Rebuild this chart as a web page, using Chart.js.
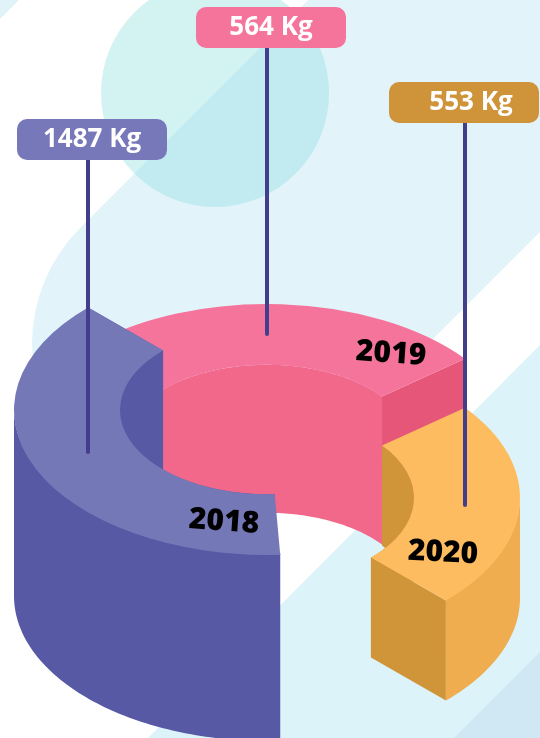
<!DOCTYPE html>
<html>
<head>
<meta charset="utf-8">
<title>Kg per year</title>
<script src="https://cdn.jsdelivr.net/npm/chart.js@4"></script>
<style>
  html, body { margin: 0; padding: 0; background: #fff; }
  canvas { display: block; }
</style>
</head>
<body>
<canvas id="ring" width="540" height="738"></canvas>
<script>
var years = ['2018', '2019', '2020'];
var kgValues = [1487, 564, 553];
// degrees each slice covers in the picture (not proportional to the kg values)
var sliceSweep = [138, 96.5, 83.5];

var topColors = ['#7578b7', '#f5749b', '#febc60'];
var outerWallColors = ['#5759a5', '#f1688a', '#efad4f'];
var innerWallColors = ['#5759a5', '#f1688a', '#d09539'];
var endFaceColors = ['#5759a5', '#e55678', '#d09539'];
var calloutColors = ['#7778b9', '#f5749b', '#cf9339'];
var stemColor = '#423e8c';

var sliceCenterY = [410, 449, 498];
var sliceDepth = [186, 148, 100];
var paintOrder = [1, 2, 0];
var squash = 0.573;

var calloutBoxes = [[17, 119], [196, 7], [389, 82]];
var calloutTextX = [92, 271, 471];
var stemX = [88, 267, 465];
var stemEndY = [452, 334, 505];
var yearLabelPos = [[224, 522, 4], [391, 354, 4], [443, 553, 3]];

(function () {
  'use strict';

  var HALF_TURN = Math.PI;

  function ellipsePoints(cx, cy, r, t0, t1) {
    var pts = [];
    var steps = Math.max(2, Math.ceil(Math.abs(t1 - t0) / 0.02));
    for (var i = 0; i <= steps; i++) {
      var t = t0 + (t1 - t0) * i / steps;
      pts.push([cx + r * Math.cos(t), cy + r * squash * Math.sin(t)]);
    }
    return pts;
  }

  function fillPolygon(ctx, pts, color) {
    ctx.fillStyle = color;
    ctx.beginPath();
    pts.forEach(function (p, i) {
      if (i === 0) { ctx.moveTo(p[0], p[1]); } else { ctx.lineTo(p[0], p[1]); }
    });
    ctx.closePath();
    ctx.fill();
  }

  // curved wall, cut at the left/right extremes so each piece is monotonic in x
  function fillWall(ctx, cx, cy, r, t0, t1, depth, color, nearOnly) {
    var k = Math.floor(t0 / HALF_TURN);
    while (k * HALF_TURN < t1) {
      var a = Math.max(t0, k * HALF_TURN);
      var b = Math.min(t1, (k + 1) * HALF_TURN);
      var isNear = ((k % 2) + 2) % 2 === 0;
      if (b > a && (!nearOnly || isNear)) {
        var top = ellipsePoints(cx, cy, r, a, b);
        var bottom = top.map(function (p) { return [p[0], p[1] + depth]; }).reverse();
        fillPolygon(ctx, top.concat(bottom), color);
      }
      k++;
    }
  }

  function fillEndFace(ctx, cx, cy, arc, depth, color) {
    var t = arc.endAngle;
    var c = Math.cos(t);
    var s = Math.sin(t) * squash;
    fillPolygon(ctx, [
      [cx + arc.innerRadius * c, cy + arc.innerRadius * s],
      [cx + arc.outerRadius * c, cy + arc.outerRadius * s],
      [cx + arc.outerRadius * c, cy + arc.outerRadius * s + depth],
      [cx + arc.innerRadius * c, cy + arc.innerRadius * s + depth]
    ], color);
  }

  function drawTopFace(ctx, arc, cy) {
    ctx.save();
    ctx.translate(arc.x, cy);
    ctx.scale(1, squash);
    ctx.translate(-arc.x, -arc.y);
    arc.draw(ctx);
    ctx.restore();
  }

  function drawBackground(ctx) {
    ctx.fillStyle = '#ffffff';
    ctx.fillRect(0, 0, 540, 738);

    // small corner triangle
    fillPolygon(ctx, [[0, 0], [19, 0], [0, 19]], '#e0f3f8');

    // wide diagonal pill
    function pillPath() {
      ctx.beginPath();
      ctx.moveTo(308, 0);
      ctx.lineTo(540, 0);
      ctx.lineTo(540, 232);
      ctx.lineTo(312, 460);
      ctx.arc(196, 344, 164, Math.PI / 4, Math.PI * 5 / 4);
      ctx.closePath();
    }
    pillPath();
    ctx.fillStyle = '#e3f3fa';
    ctx.fill();

    // lower diagonal bands
    fillPolygon(ctx, [[540, 345], [540, 738], [148, 738]], '#dcf3fa');
    fillPolygon(ctx, [[540, 652], [540, 738], [454, 738]], '#d0e8f3');

    // circle, darker where it overlaps the pill
    ctx.beginPath();
    ctx.arc(215, 93, 114, 0, Math.PI * 2);
    ctx.fillStyle = '#d3f2f2';
    ctx.fill();
    ctx.save();
    pillPath();
    ctx.clip();
    ctx.beginPath();
    ctx.arc(215, 93, 114, 0, Math.PI * 2);
    ctx.fillStyle = '#c1ebf0';
    ctx.fill();
    ctx.restore();
  }

  function drawCallouts(ctx) {
    years.forEach(function (year, i) {
      var box = calloutBoxes[i];

      ctx.strokeStyle = stemColor;
      ctx.lineWidth = 4;
      ctx.lineCap = 'round';
      ctx.beginPath();
      ctx.moveTo(stemX[i], box[1] + 30);
      ctx.lineTo(stemX[i], stemEndY[i]);
      ctx.stroke();

      ctx.fillStyle = calloutColors[i];
      ctx.beginPath();
      ctx.roundRect(box[0], box[1], 150, 41, 10);
      ctx.fill();

      ctx.fillStyle = '#ffffff';
      ctx.font = 'bold 26px "Open Sans"';
      ctx.textAlign = 'center';
      ctx.textBaseline = 'middle';
      ctx.fillText(kgValues[i] + ' Kg', calloutTextX[i], box[1] + 21);

      var pos = yearLabelPos[i];
      ctx.save();
      ctx.translate(pos[0], pos[1]);
      ctx.rotate(pos[2] * Math.PI / 180);
      ctx.fillStyle = '#000000';
      ctx.font = '800 30px "Open Sans"';
      ctx.fillText(year, 0, 0);
      ctx.restore();
    });
  }

  var ringPlugin = {
    id: 'ring3d',
    beforeDraw: function (chart) {
      drawBackground(chart.ctx);
    },
    beforeDatasetsDraw: function (chart) {
      var ctx = chart.ctx;
      var arcs = chart.getDatasetMeta(0).data;
      paintOrder.forEach(function (i) {
        var arc = arcs[i];
        var cy = sliceCenterY[i];
        var depth = sliceDepth[i];
        fillWall(ctx, arc.x, cy, arc.innerRadius, arc.startAngle, arc.endAngle, depth, innerWallColors[i], false);
        fillEndFace(ctx, arc.x, cy, arc, depth, endFaceColors[i]);
        // start the wall a little higher so no seam shows under the top face
        fillWall(ctx, arc.x, cy - 1.5, arc.outerRadius, arc.startAngle, arc.endAngle, depth + 1.5, outerWallColors[i], true);
        drawTopFace(ctx, arc, cy);
      });
      return false;
    },
    afterDraw: function (chart) {
      drawCallouts(chart.ctx);
    }
  };

  new Chart(document.getElementById('ring'), {
    type: 'doughnut',
    data: {
      labels: years,
      datasets: [{
        data: sliceSweep,
        backgroundColor: topColors,
        borderWidth: 0
      }]
    },
    options: {
      responsive: false,
      animation: false,
      rotation: 177,
      circumference: 318,
      cutout: '58.1%',
      layout: { padding: { left: 14, right: 20 } },
      plugins: {
        legend: { display: false },
        tooltip: { enabled: false }
      }
    },
    plugins: [ringPlugin]
  });
})();
</script>
</body>
</html>
